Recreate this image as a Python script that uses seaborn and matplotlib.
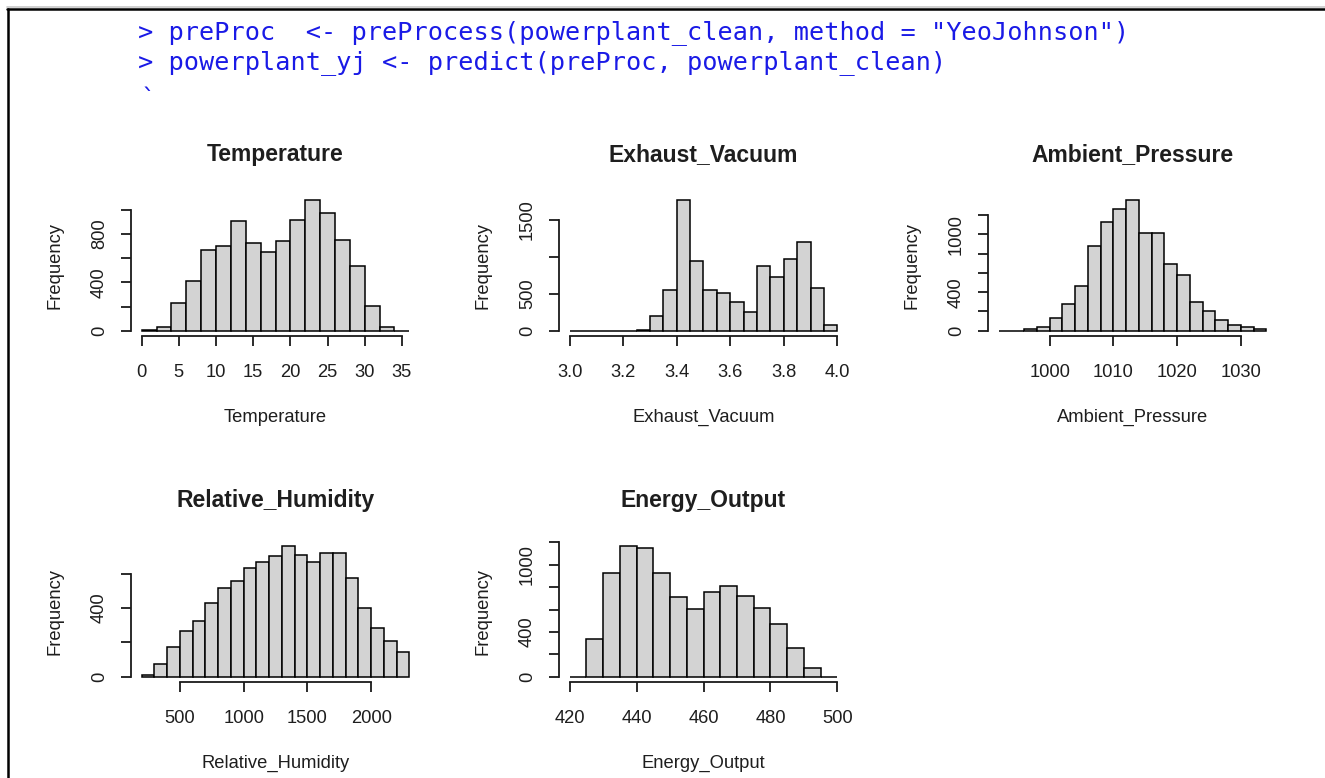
import numpy as np
import pandas as pd
import matplotlib
matplotlib.use("Agg")
import matplotlib.pyplot as plt
from matplotlib.lines import Line2D
import seaborn as sns

# ---------------- data ----------------
temp_edges = list(range(0, 37, 2))
temp_counts = [3, 33, 228, 414, 670, 700, 906, 723, 656, 742, 917, 1081, 973, 753, 536, 208, 31, 0]

vac_edges = [3.0, 3.05, 3.1, 3.15, 3.2, 3.25, 3.3, 3.35, 3.4, 3.45, 3.5,
             3.55, 3.6, 3.65, 3.7, 3.75, 3.8, 3.85, 3.9, 3.95, 4.0]
vac_counts = [0, 0, 1, 1, 2, 15, 194, 547, 1763, 936, 547, 511, 389, 249, 868, 732, 963, 1198, 579, 81]

pres_edges = list(range(992, 1035, 2))
pres_counts = [0, 0, 17, 42, 132, 282, 466, 880, 1131, 1260, 1354, 1009, 1009, 689, 581, 303, 202, 115, 63, 42, 17]

hum_edges = list(range(200, 2301, 100))
hum_counts = [12, 73, 176, 265, 322, 431, 514, 557, 635, 665, 700, 759, 710, 666, 719, 719, 576, 402, 284, 210, 145]

energy_edges = list(range(420, 501, 5))
energy_counts = [0, 339, 927, 1166, 1154, 927, 709, 603, 754, 809, 724, 618, 470, 258, 76, 0]

titles = ["Temperature", "Exhaust_Vacuum", "Ambient_Pressure", "Relative_Humidity", "Energy_Output"]

x_ticks = [
    [0, 5, 10, 15, 20, 25, 30, 35],
    [3.0, 3.2, 3.4, 3.6, 3.8, 4.0],
    [1000, 1010, 1020, 1030],
    [500, 1000, 1500, 2000],
    [420, 440, 460, 480, 500],
]
x_tick_labels = [
    ["0", "5", "10", "15", "20", "25", "30", "35"],
    ["3.0", "3.2", "3.4", "3.6", "3.8", "4.0"],
    ["1000", "1010", "1020", "1030"],
    ["500", "1000", "1500", "2000"],
    ["420", "440", "460", "480", "500"],
]
y_ticks = [
    [0, 200, 400, 600, 800, 1000],
    [0, 500, 1000, 1500],
    [0, 200, 400, 600, 800, 1000, 1200],
    [0, 200, 400, 600],
    [0, 200, 400, 600, 800, 1000, 1200],
]
y_tick_labels = [
    ["0", "", "400", "", "800", ""],
    ["0", "500", "", "1500"],
    ["0", "", "400", "", "", "1000", ""],
    ["0", "", "400", ""],
    ["0", "", "400", "", "", "1000", ""],
]

code_lines = [
    '> preProc  <- preProcess(powerplant_clean, method = "YeoJohnson")',
    '> powerplant_yj <- predict(preProc, powerplant_clean)',
    '`',
]

panels = [
    (temp_edges, temp_counts),
    (vac_edges, vac_counts),
    (pres_edges, pres_counts),
    (hum_edges, hum_counts),
    (energy_edges, energy_counts),
]

# ---------------- figure ----------------
sns.set_theme(style="white")
plt.rcParams["font.family"] = ["Liberation Sans", "DejaVu Sans"]

W, H = 1325, 778
fig = plt.figure(figsize=(W / 100, H / 100), dpi=100)
fig.patch.set_facecolor("white")

# frame lines of the screenshot
fig.add_artist(Line2D([7 / W, 1], [1 - 7 / H, 1 - 7 / H], color="#c8c8c8", lw=1.2))
fig.add_artist(Line2D([7 / W, 1], [1 - 9 / H, 1 - 9 / H], color="black", lw=1.8))
fig.add_artist(Line2D([8 / W, 8 / W], [0, 1 - 9 / H], color="black", lw=1.8))

# code lines
code_y = [33, 63, 99]
code_x = [138, 138, 141]
for txt, yy, xx in zip(code_lines, code_y, code_x):
    fig.text(xx / W, 1 - yy / H, txt, family="DejaVu Sans Mono", fontsize=18.2,
             color="#1a1ae6", va="center", ha="left")

col_left = [131, 559, 988]
row_top = [195, 541]
pw, ph = 289, 141
positions = [(0, 0), (0, 1), (0, 2), (1, 0), (1, 1)]

txt_col = "#1e1e1e"
for i, ((edges, counts), (r, c)) in enumerate(zip(panels, positions)):
    ax = fig.add_axes([col_left[c] / W, 1 - (row_top[r] + ph) / H, pw / W, ph / H])
    e = np.asarray(edges, dtype=float)
    df = pd.DataFrame({"value": (e[:-1] + e[1:]) / 2, "count": counts})
    sns.histplot(data=df, x="value", weights="count", bins=list(e), ax=ax,
                 color="#d3d3d3", edgecolor="black", linewidth=1.1, alpha=1)
    lo, hi = e[0], e[-1]
    dx = (hi - lo) * 0.04
    ymax = max(counts)
    ax.set_xlim(lo - dx, hi + dx)
    ax.set_ylim(-0.04 * ymax, ymax * 1.04)

    ax.set_xticks(x_ticks[i])
    ax.set_xticklabels(x_tick_labels[i])
    ax.set_yticks(y_ticks[i])
    ax.set_yticklabels(y_tick_labels[i])

    for s in ["top", "right"]:
        ax.spines[s].set_visible(False)
    ax.spines["left"].set_bounds(y_ticks[i][0], y_ticks[i][-1])
    ax.spines["bottom"].set_bounds(x_ticks[i][0], x_ticks[i][-1])
    for s in ["left", "bottom"]:
        ax.spines[s].set_color("#1a1a1a")
        ax.spines[s].set_linewidth(1.3)

    ax.tick_params(axis="both", which="both", direction="out", length=7.5, width=1.3,
                   color="#1a1a1a", labelsize=13.2, labelcolor=txt_col,
                   bottom=True, left=True)
    ax.tick_params(axis="x", pad=13)
    ax.tick_params(axis="y", pad=9, labelrotation=90)
    for lbl in ax.get_yticklabels():
        lbl.set_va("center")

    ax.set_title(titles[i], fontsize=16.5, fontweight="bold", color=txt_col,
                 y=1 + 32 / ph, va="center")
    ax.set_xlabel(titles[i], fontsize=13.2, color=txt_col)
    ax.xaxis.set_label_coords(0.5, -81 / ph)
    ax.xaxis.label.set_va("center")
    ax.set_ylabel("Frequency", fontsize=13.2, color=txt_col)
    ax.yaxis.set_label_coords(-76 / pw, 0.5)
    ax.yaxis.label.set_va("center")
    ax.set_facecolor("white")
    ax.grid(False)

fig.savefig("out.png", dpi=100, facecolor="white")
